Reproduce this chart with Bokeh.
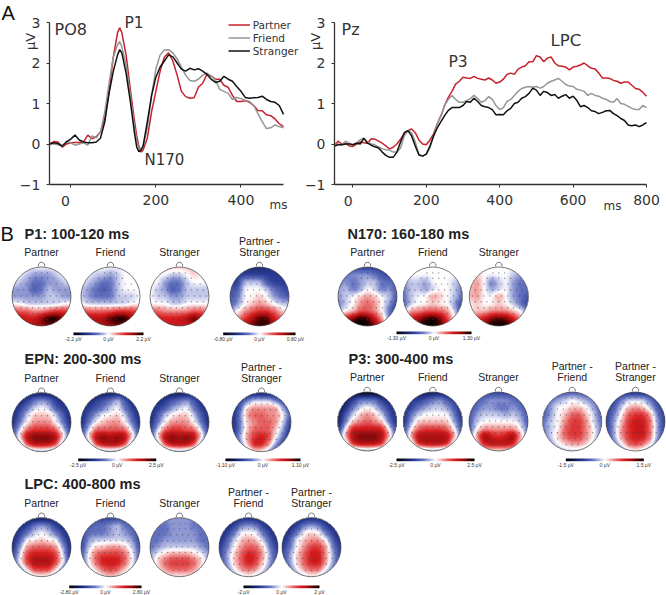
import numpy as np
from bokeh.embed import file_html
from bokeh.resources import INLINE
from bokeh.plotting import figure
from bokeh.layouts import column, row
from bokeh.models import (Range1d, FixedTicker, Label, Legend, LegendItem,
                          LinearColorMapper)

# ---------- ERP data ----------
TIME_PO8 = [-50,-40,-30,-20,-10,0,10,20,30,40,50,60,70,
            80,90,100,110,115,120,130,140,150,155,160,165,170,
            180,190,200,210,220,230,240,250,260,270,280,290,300,310,320,330,340,350,
            360,370,380,390,400,410,420,430,440,450,460,470,480,490,500]
PO8_PARTNER = [0,.06,.05,-.08,0,.03,.04,.04,.05,.22,.13,.18,.3,
               .65,1.3,2.15,2.75,2.87,2.75,2.2,1.35,.55,.2,-.05,-.2,-.15,
               .15,.8,1.3,1.8,2.15,2.25,2.05,1.7,1.3,1.17,1.13,1.14,1.4,1.5,1.72,1.68,1.6,1.6,
               1.45,1.4,1.2,1.05,1.05,1.07,1.03,.95,.83,.82,.72,.7,.62,.5,.43]
PO8_FRIEND = [0,0,-.02,-.05,.07,.03,-.03,0,.03,-.03,.2,.15,.3,
              .8,1.5,2.15,2.45,2.53,2.4,1.95,1.2,.4,.1,-.12,-.15,-.05,
              .4,1.2,1.85,2.2,2.32,2.33,2.25,2.1,1.9,1.7,1.57,1.55,1.6,1.7,1.75,1.68,1.58,1.35,
              1.3,1.25,1.1,1.15,1.12,1.08,1.05,.95,.75,.55,.38,.4,.47,.43,.4]
PO8_STRANGER = [0,.03,.01,-.05,.05,.12,.22,.1,.05,.03,.03,.05,.15,
                .55,1.25,1.8,2.2,2.33,2.25,1.75,1.05,.25,-.08,-.19,-.15,-.05,
                .55,1.2,1.65,1.9,2.05,2.2,2.15,2.0,1.85,1.8,1.87,1.83,1.86,1.8,1.72,1.6,1.52,1.55,
                1.67,1.6,1.55,1.42,1.3,1.15,1.13,1.14,1.15,1.18,1.1,1.05,1.03,.95,.73]

TIME_PZ = list(range(-50, 810, 10))
PZ_PARTNER = [-.03,.07,0,.02,-.05,-.06,0,.05,.03,.02,.13,.12,.07,.02,-.05,-.12,-.08,0,.12,.25,.33,.37,.28,.1,.0,-.02,
              .1,.25,.5,.7,.95,1.15,1.3,1.48,1.55,1.65,1.63,1.62,1.67,1.62,1.6,1.58,1.63,1.58,1.5,1.53,1.6,1.72,1.75,1.72,
              1.85,1.9,1.93,2.03,2.03,2.18,2.15,2.03,2.12,2.15,2.0,1.93,1.92,1.9,1.83,1.9,1.92,1.95,2.0,1.93,
              1.87,1.85,1.75,1.63,1.63,1.62,1.57,1.55,1.5,1.53,1.53,1.45,1.37,1.35,1.28,1.18]
PZ_FRIEND = [-.02,0,-.02,.07,.02,-.02,.03,.1,.15,.05,0,-.02,-.07,-.12,-.14,-.15,-.2,-.2,-.1,.2,.33,.28,.05,-.25,-.3,-.25,
             -.1,.2,.5,.7,.95,1.1,1.2,1.1,1.03,1.03,1.07,1.12,1.2,1.12,1.03,1.07,1.17,1.1,.95,.85,.9,1.05,1.1,1.2,
             1.3,1.37,1.4,1.42,1.4,1.42,1.38,1.42,1.5,1.55,1.58,1.62,1.55,1.47,1.43,1.42,1.35,1.33,1.3,1.2,
             1.25,1.2,1.18,1.13,1.1,1.05,1.03,1.12,1.0,.98,.93,.88,.85,.85,.95,.9]
PZ_STRANGER = [-.05,-.02,-.02,0,0,-.02,.02,0,.14,.02,-.03,-.07,-.1,-.2,-.28,-.33,-.33,-.2,.05,.28,.33,.2,-.05,-.27,-.3,-.25,
               -.05,.2,.4,.55,.7,.83,.9,.9,.9,.95,1.05,1.03,1.13,1.05,.95,.92,.9,.85,.72,.73,.72,.82,.88,1.0,
               1.03,1.13,1.17,1.25,1.38,1.33,1.2,1.3,1.27,1.2,1.22,1.13,1.18,1.22,1.13,1.18,1.08,.92,.95,.9,
               .82,.8,.75,.78,.82,.83,.75,.7,.63,.58,.47,.45,.47,.43,.47,.53]

# ---------- scalp maps: amplitude read on a 9 x 9 lattice (top row = front), -9..9 ----------
P1_PARTNER = [[0,0,0,0,0,0,0,0,0],[0,0,-1,-2,-2,-2,-1,0,0],[0,-1,-2,-3,-3,-2,-2,-1,0],[-2,-2,-2,-4,-3,-1,-2,-2,-2],
              [-2,-2,-2,-2,-2,-1,-1,-2,-2],[0,0,-1,-1,-1,-1,-1,0,0],[4,3,3,2,2,3,4,4,4],[6,6,5,5,7,9,9,7,6],[5,5,5,6,6,7,6,5,5]]
P1_FRIEND = [[0,0,0,0,0,0,0,0,0],[0,0,-1,-1,-2,-1,0,0,0],[0,-1,-2,-3,-3,-1,0,0,0],[-1,-2,-3,-4,-3,-1,0,0,0],
             [-1,-2,-3,-3,-3,-1,-1,-1,0],[0,-1,-1,-1,-1,-1,-1,0,0],[4,3,3,3,3,4,4,4,3],[6,6,6,6,8,9,9,6,5],[5,5,5,6,6,7,6,5,5]]
P1_STRANGER = [[0,0,1,1,1,1,1,0,0],[0,0,0,-1,-1,0,1,0,0],[0,0,-2,-3,-3,-1,0,0,0],[0,-1,-2,-4,-3,-1,-1,-1,-1],
               [0,-1,-1,-2,-2,-1,-1,-1,-1],[0,0,0,-1,-1,0,0,0,0],[3,3,2,2,2,2,3,3,2],[5,5,5,5,5,6,8,6,5],[4,4,4,5,5,5,5,4,4]]
P1_DIFF = [[-6,-6,-6,-6,-6,-6,-6,-6,-6],[-5,-5,-5,-5,-5,-5,-5,-5,-5],[-5,-5,-1,-1,-1,-4,-5,-5,-5],[-4,-4,0,0,0,-1,-3,-4,-5],
           [-4,-3,0,0,1,0,-2,-3,-4],[-4,-2,0,1,2,1,0,-1,-1],[-2,0,2,3,4,4,3,1,0],[0,2,4,6,8,8,5,3,2],[2,4,6,7,8,8,6,4,3]]
N170_PARTNER = [[-5,-5,-5,-5,-5,-5,-5,-5,-5],[-4,-3,-2,-2,-2,-3,-4,-5,-5],[-3,-2,-3,-2,-1,-1,-3,-3,-4],[-2,-1,-3,-2,0,-1,-3,-2,-4],
                [-2,-1,0,1,2,1,0,-1,-4],[-3,-1,0,2,3,2,0,-2,-5],[-2,0,1,3,3,2,0,-3,-6],[4,5,7,9,8,5,2,-3,-5],[6,7,9,9,9,7,4,-1,-3]]
N170_FRIEND = [[0,0,0,0,0,0,0,0,0],[-1,0,0,0,0,0,0,0,-1],[-2,-1,-1,-2,0,0,0,-1,-2],[-3,-1,-1,-2,-1,0,0,-1,-3],
               [-3,-1,0,0,2,1,0,-1,-3],[-4,-1,0,0,1,0,0,-2,-5],[-2,2,2,3,3,3,2,-1,-5],[3,5,6,8,9,7,4,0,-4],[5,6,8,9,9,8,5,1,-3]]
N170_STRANGER = [[0,0,0,0,0,0,0,-1,-1],[0,1,0,0,0,0,-1,-2,-3],[1,2,0,-3,-1,0,-2,-3,-3],[1,2,0,-2,-1,0,-2,-3,-3],
                 [1,2,0,0,2,0,-2,-3,-4],[0,1,0,0,1,0,-1,-3,-5],[0,1,1,2,2,2,1,0,-3],[2,4,5,7,8,7,5,2,-2],[3,5,7,9,9,9,7,3,-1]]
EPN_PARTNER = [[-7,-7,-7,-7,-7,-7,-7,-7,-7],[-6,-6,-5,-3,-2,-3,-5,-6,-7],[-6,-5,-3,-1,0,-1,-4,-5,-6],[-6,-4,-1,1,1,1,-1,-4,-6],
               [-6,-3,0,2,2,2,0,-3,-6],[-5,-1,3,4,4,4,3,-1,-5],[-5,1,6,7,7,7,6,1,-5],[-5,-3,4,6,6,6,4,-3,-5],[-6,-5,-4,-3,-2,-3,-4,-5,-6]]
EPN_FRIEND = [[-7,-7,-7,-7,-7,-7,-7,-7,-7],[-6,-6,-5,-4,-3,-1,-4,-6,-7],[-6,-5,-4,-3,-1,0,-3,-5,-6],[-6,-4,-2,0,0,1,-1,-4,-6],
              [-6,-3,0,1,2,2,0,-3,-6],[-5,-1,3,3,3,3,3,-1,-5],[-5,1,6,7,6,7,6,1,-5],[-5,-3,4,6,6,6,4,-3,-5],[-6,-5,-4,-3,-2,-3,-4,-5,-6]]
EPN_STRANGER = [[-7,-7,-7,-7,-7,-7,-7,-7,-7],[-6,-6,-5,-4,-3,-2,-4,-6,-7],[-6,-5,-4,-2,-1,0,-3,-5,-6],[-6,-4,-1,0,1,1,-1,-4,-6],
                [-6,-3,0,2,2,2,0,-3,-6],[-5,-1,3,4,4,3,3,-1,-5],[-5,1,6,7,6,7,6,1,-5],[-5,-3,4,6,6,6,4,-3,-5],[-6,-5,-4,-3,-2,-3,-4,-5,-6]]
EPN_DIFF = [[-7,-7,-7,-7,-7,-7,-7,-7,-7],[-6,-5,-3,-1,-1,-1,-3,-5,-6],[-6,-4,1,2,2,2,2,-2,-5],[-6,-3,2,3,3,2,2,0,-4],
            [-6,-3,1,2,3,3,2,-1,-5],[-6,-3,1,3,3,3,1,-2,-6],[-6,-2,2,4,5,4,0,-3,-7],[-6,-3,1,5,5,2,-2,-5,-7],[-7,-5,-2,0,0,-2,-5,-6,-7]]
P3_PARTNER = [[-9,-9,-9,-9,-9,-9,-9,-9,-9],[-8,-7,-5,-3,-3,-3,-5,-6,-6],[-8,-6,-3,-1,0,-1,-3,-5,-6],[-7,-4,-1,1,2,1,-1,-4,-6],
              [-7,-3,1,2,3,2,1,-3,-6],[-6,0,5,5,5,5,5,0,-5],[-5,2,6,7,7,7,6,2,-5],[-5,-2,5,6,6,6,5,-2,-5],[-7,-5,-4,-3,-2,-3,-4,-5,-6]]
P3_FRIEND = [[-7,-7,-7,-7,-7,-7,-7,-7,-7],[-6,-5,-5,-4,-3,-2,-4,-5,-6],[-6,-5,-3,-2,-1,-1,-2,-4,-6],[-6,-3,-1,0,0,0,0,-3,-6],
             [-6,-2,1,1,1,1,1,-2,-5],[-5,0,3,4,4,4,3,0,-5],[-5,2,6,6,6,6,6,2,-5],[-5,-2,5,6,6,6,5,-2,-5],[-6,-5,-4,-3,-2,-3,-4,-5,-6]]
P3_STRANGER = [[-5,-5,-5,-5,-5,-5,-5,-5,-5],[-5,-4,-3,-2,-2,-2,-3,-4,-5],[-5,-3,-2,-2,-3,-3,-2,-3,-5],[-4,-2,-1,-1,-1,-2,-1,-2,-4],
               [-4,-1,0,0,0,0,0,-1,-4],[-4,0,2,2,2,2,2,0,-3],[-4,2,7,5,4,5,7,2,-3],[-1,0,5,6,6,6,5,0,-1],[0,0,0,0,0,0,0,0,0]]
P3_PF = [[-4,-4,-4,-4,-4,-4,-4,-4,-4],[-4,-3,-2,-1,0,-1,-2,-3,-4],[-4,-2,0,0,1,1,0,-2,-4],[-4,-2,0,1,3,3,1,-1,-4],
         [-3,-1,0,2,4,4,2,-1,-3],[-3,-1,0,3,4,4,2,0,-3],[-3,-1,1,3,4,4,2,0,-3],[-4,-2,0,1,2,2,1,-1,-4],[-5,-4,-2,-1,-1,-1,-2,-4,-5]]
P3_PS = [[-6,-6,-6,-6,-6,-6,-6,-6,-6],[-5,-5,-3,-1,-1,-1,-3,-5,-6],[-5,-4,-1,1,2,1,-1,-4,-5],[-5,-3,0,3,4,4,2,-3,-5],
         [-5,-2,1,4,5,5,3,-2,-5],[-5,-2,2,4,5,5,3,-2,-5],[-5,-2,2,4,5,5,3,-2,-5],[-5,-3,0,3,4,3,1,-3,-5],[-6,-5,-3,-1,0,-1,-3,-5,-6]]
LPC_PARTNER = [[-7,-7,-7,-7,-7,-7,-7,-7,-7],[-6,-6,-5,-3,-2,-3,-5,-6,-6],[-6,-5,-3,-1,0,-1,-3,-5,-6],[-6,-4,0,0,1,0,0,-4,-6],
               [-6,-2,2,3,3,3,2,-2,-6],[-5,-1,4,5,5,5,4,-1,-6],[-5,0,4,6,6,6,4,0,-6],[-5,-3,1,4,4,4,1,-3,-6],[-6,-5,-3,-1,0,-1,-3,-5,-7]]
LPC_FRIEND = [[-5,-5,-5,-5,-5,-5,-5,-5,-5],[-5,-4,-3,-3,-2,-1,-3,-4,-5],[-5,-3,-3,-3,-2,-1,-2,-3,-5],[-5,-2,-1,-1,-1,-1,-1,-2,-5],
              [-5,-1,1,1,2,2,1,-1,-4],[-4,0,3,4,4,4,3,0,-4],[-4,0,3,5,5,5,3,0,-4],[-4,-1,1,3,4,3,1,-1,-4],[-5,-3,-1,0,1,0,-1,-3,-5]]
LPC_STRANGER = [[-2,-2,-2,-2,-2,-2,-2,-2,-2],[-3,-3,-3,-2,-2,-2,-3,-3,-3],[-3,-3,-3,-2,-2,-2,-2,-3,-3],[-3,-3,-2,-2,-2,-2,-2,-3,-3],
                [-3,-2,-1,-1,-1,-1,-1,-2,-3],[-2,0,1,2,2,2,1,0,-2],[-2,1,3,4,4,4,3,1,-2],[-1,0,2,3,3,3,2,0,-1],[0,0,0,0,0,0,0,0,0]]
LPC_PF = [[-6,-6,-6,-6,-6,-6,-6,-6,-6],[-6,-6,-5,-3,-2,-3,-5,-6,-6],[-6,-5,-3,0,0,0,-3,-5,-6],[-6,-4,-1,1,2,1,-1,-4,-6],
          [-5,-3,0,2,3,3,1,-3,-5],[-5,-2,1,3,5,4,2,-2,-5],[-5,-2,1,3,5,4,1,-2,-5],[-6,-3,0,2,3,2,0,-3,-6],[-7,-5,-3,-1,0,-1,-3,-5,-7]]
LPC_PS = [[-6,-6,-6,-6,-6,-6,-6,-6,-6],[-6,-6,-5,-3,-2,-3,-5,-6,-6],[-6,-5,-3,0,1,0,-3,-5,-6],[-6,-4,0,1,2,2,0,-4,-6],
          [-5,-3,0,2,4,4,2,-3,-5],[-5,-2,1,3,5,5,2,-2,-5],[-5,-2,1,3,5,5,2,-2,-5],[-6,-3,0,2,3,3,0,-3,-6],[-7,-5,-3,-1,0,-1,-3,-5,-7]]

# electrode rows in head-relative units
ELECTRODE_ROWS = [(-.80,[-.2,0,.2]),(-.62,[-.4,-.2,0,.2,.4]),(-.42,[-.7,-.5,-.3,-.1,.1,.3,.5,.7]),
                  (-.22,[-.8,-.6,-.4,-.2,0,.2,.4,.6,.8]),(-.02,[-.9,-.7,-.5,-.3,-.1,.1,.3,.5,.7,.9]),
                  (.18,[-.8,-.6,-.4,-.2,0,.2,.4,.6,.8]),(.38,[-.7,-.5,-.3,-.1,.1,.3,.5,.7]),
                  (.58,[-.5,-.3,-.1,.1,.3,.5]),(.78,[-.2,0,.2])]

# ---------- layout of the lower panel ----------
R = 29.5
MAPS = [(P1_PARTNER,41,296,["Partner"]),(P1_FRIEND,110,296,["Friend"]),(P1_STRANGER,179,296,["Stranger"]),
        (P1_DIFF,259,296,["Partner -","Stranger"]),
        (N170_PARTNER,367,296,["Partner"]),(N170_FRIEND,432.3,296,["Friend"]),(N170_STRANGER,498.3,296,["Stranger"]),
        (EPN_PARTNER,41,421.7,["Partner"]),(EPN_FRIEND,110,421.7,["Friend"]),(EPN_STRANGER,179,421.7,["Stranger"]),
        (EPN_DIFF,261,421.7,["Partner -","Stranger"]),
        (P3_PARTNER,366.7,421,["Partner"]),(P3_FRIEND,432.3,421,["Friend"]),(P3_STRANGER,498,421,["Stranger"]),
        (P3_PF,571.7,421,["Partner -","Friend"]),(P3_PS,635,421,["Partner -","Stranger"]),
        (LPC_PARTNER,41,546.7,["Partner"]),(LPC_FRIEND,110,546.7,["Friend"]),(LPC_STRANGER,179,546.7,["Stranger"]),
        (LPC_PF,248,546.7,["Partner -","Friend"]),(LPC_PS,311,546.7,["Partner -","Stranger"])]
TITLES = [("P1: 100-120 ms",24,238),("N170: 160-180 ms",347,238),("EPN: 200-300 ms",24,363.5),
          ("P3: 300-400 ms",348,363.5),("LPC: 400-800 ms",24,488.5)]
BARS = [(73,143,332,["-2.2 µV","0 µV","2.2 µV"]),(222.7,295,332,["-0.80 µV","0 µV","0.80 µV"]),
        (396,471,331,["-1.30 µV","0 µV","1.30 µV"]),
        (77.7,155.7,458,["-2.5 µV","0 µV","2.5 µV"]),(225,300,458,["-1.10 µV","0 µV","1.10 µV"]),
        (396,474,458,["-2.5 µV","0 µV","2.5 µV"]),(565.3,643.3,458,["-1.5 µV","0 µV","1.5 µV"]),
        (68.7,141,585,["-2.80 µV","0 µV","2.80 µV"]),(243,319,585,["-2 µV","0 µV","2 µV"])]

RED, GRAY, BLACK, INK = "#c8202c", "#969696", "#111111", "#333333"
SANS, ARIAL = "DejaVu Sans", "Liberation Sans"

# ---------- helpers ----------
PX_PER_UV = 40.5
ay = lambda py: 3 - (py - 22) / PX_PER_UV

def erp_figure(width, xr, ticks, bounds):
    f = figure(width=width, height=220, output_backend="svg", toolbar_location=None,
               x_range=Range1d(*xr), y_range=Range1d(ay(220), ay(0)), min_border=0)
    f.grid.visible = False
    f.outline_line_color = None
    f.xaxis.ticker = FixedTicker(ticks=ticks)
    f.yaxis.ticker = FixedTicker(ticks=[-1, 0, 1, 2, 3])
    f.xaxis.bounds = bounds
    f.yaxis.bounds = (-1, 3)
    f.xaxis.fixed_location = -1
    f.yaxis.fixed_location = bounds[0]
    f.xaxis.major_label_overrides = {0: ""}
    for ax in (f.xaxis[0], f.yaxis[0]):
        ax.axis_line_color = INK
        ax.axis_line_width = 1.3
        ax.major_tick_line_color = INK
        ax.major_tick_out = 3
        ax.major_tick_in = 0
        ax.minor_tick_line_color = None
        ax.major_label_text_font = SANS
        ax.major_label_text_font_size = "14px"
        ax.major_label_text_color = INK
    f.xaxis.major_label_standoff = 7
    f.yaxis.major_label_standoff = 6
    return f

def note(f, x, y, text, size, font=SANS, style="normal", align="left", baseline="alphabetic", angle=0, color=INK):
    # the renderer sets alphabetic text about a third of its size low; lift it back
    lift = 0.34 * size if baseline == "alphabetic" else 0
    f.add_layout(Label(x=x, y=y, text=text, text_font=font, text_font_size=f"{size}px",
                       text_font_style=style, text_align=align, text_baseline=baseline,
                       angle=angle, text_color=color, y_offset=lift))

# ---------- top left ----------
SX1 = 234 / 550
ax1 = lambda px: (px - 49) / SX1 - 50
f1 = erp_figure(305, (ax1(0), ax1(305)), [0, 200, 400], (-50, 500))
l_p = f1.line(TIME_PO8, PO8_PARTNER, line_color=RED, line_width=1.5)
l_f = f1.line(TIME_PO8, PO8_FRIEND, line_color=GRAY, line_width=1.5)
l_s = f1.line(TIME_PO8, PO8_STRANGER, line_color=BLACK, line_width=1.5)
f1.add_layout(Legend(items=[LegendItem(label="Partner", renderers=[l_p]),
                            LegendItem(label="Friend", renderers=[l_f]),
                            LegendItem(label="Stranger", renderers=[l_s])],
                     location=(227.7, 163), background_fill_alpha=0, border_line_color=None,
                     margin=0, padding=0, spacing=0, glyph_width=22, glyph_height=13,
                     label_height=13, label_standoff=3, label_text_font=SANS,
                     label_text_font_size="10.5px", label_text_color=INK))
note(f1, ax1(1), ay(19), "A", 20, font=ARIAL, color="#111111")
note(f1, ax1(54), ay(34), "PO8", 16)
note(f1, ax1(124), ay(28), "P1", 15.5)
note(f1, ax1(144), ay(165), "N170", 15)
note(f1, ax1(269), ay(209), "ms", 12)
note(f1, ax1(30), ay(41), "µV", 13, align="center", baseline="middle", angle=np.pi / 2)
note(f1, ax1(65), ay(200), "0", 14, align="center", baseline="middle")

# ---------- top right ----------
SX2 = 312 / 850
ax2 = lambda px: (px - 334) / SX2 - 50
f2 = erp_figure(361, (ax2(305), ax2(666)), [0, 200, 400, 600, 800], (-50, 800))
f2.line(TIME_PZ, PZ_PARTNER, line_color=RED, line_width=1.5)
f2.line(TIME_PZ, PZ_FRIEND, line_color=GRAY, line_width=1.5)
f2.line(TIME_PZ, PZ_STRANGER, line_color=BLACK, line_width=1.5)
note(f2, ax2(341), ay(34), "Pz", 16)
note(f2, ax2(448), ay(67), "P3", 15.5)
note(f2, ax2(550), ay(45.7), "LPC", 16.5)
note(f2, ax2(603), ay(210), "ms", 12)
note(f2, ax2(315), ay(41), "µV", 13, align="center", baseline="middle", angle=np.pi / 2)
note(f2, ax2(347.7), ay(200), "0", 14, align="center", baseline="middle")

# ---------- bottom: scalp maps ----------
f3 = figure(width=666, height=375, output_backend="svg", toolbar_location=None,
            x_range=Range1d(0, 666), y_range=Range1d(0, 375),
            min_border=0, x_axis_type=None, y_axis_type=None)
f3.grid.visible = False
f3.outline_line_color = None
Y = lambda py: 595 - py

STOPS = [(-1, (0, 0, 0)), (-.8, (16, 24, 74)), (-.55, (42, 60, 150)), (-.3, (106, 120, 196)), (-.1, (200, 204, 236)),
         (0, (255, 255, 255)), (.1, (248, 204, 204)), (.3, (234, 106, 106)), (.5, (216, 30, 32)), (.7, (160, 12, 14)),
         (.85, (80, 0, 0)), (1, (0, 0, 0))]
pos = [s[0] for s in STOPS]
lev = np.linspace(-1, 1, 256)
PALETTE = ["#%02x%02x%02x" % tuple(int(round(np.interp(v, pos, [s[1][c] for s in STOPS]))) for c in range(3)) for v in lev]
mapper = LinearColorMapper(palette=PALETTE, low=-1, high=1, nan_color="rgba(0,0,0,0)")

def render_map(grid):
    g = np.flipud(np.array(grid, float)) / 9
    n = 121
    lin = np.linspace(0, 8, n)
    a = np.array([np.interp(lin, np.arange(9), r) for r in g])
    a = np.array([np.interp(lin, np.arange(9), c) for c in a.T]).T
    k = np.ones(9) / 9
    for _ in range(2):
        p_ = np.pad(a, 4, mode="edge")
        p_ = np.apply_along_axis(lambda v: np.convolve(v, k, "valid"), 0, p_)
        a = np.apply_along_axis(lambda v: np.convolve(v, k, "valid"), 1, p_)
    yy, xx = np.mgrid[-1:1:n * 1j, -1:1:n * 1j]
    a[xx ** 2 + yy ** 2 > 1] = np.nan
    return a

ex, ey = [], []
for grid, cx, cy, labels in MAPS:
    f3.image(image=[render_map(grid)], x=cx - R, y=Y(cy + R), dw=2 * R, dh=2 * R, color_mapper=mapper)
    f3.circle(x=cx, y=Y(cy), radius=R, fill_color=None, line_color="#555555", line_width=0.8)
    f3.arc(x=cx, y=Y(cy - R - 1.5), radius=3.2, start_angle=-0.3, end_angle=np.pi + 0.3,
           line_color="#555555", line_width=0.8)
    for ry, xs in ELECTRODE_ROWS:
        for rx in xs:
            ex.append(cx + rx * R)
            ey.append(Y(cy + ry * R))
    base = cy - 41 if len(labels) == 1 else cy - 52
    for i, t in enumerate(labels):
        note(f3, cx, Y(base + 11 * i), t, 10.5, font=ARIAL, align="center", color="#222222")
f3.scatter(ex, ey, size=1.4, fill_color="#444444", line_color=None, fill_alpha=0.6)

for t, x, y in TITLES:
    note(f3, x, Y(y), t, 14.5, font=ARIAL, style="bold", color="#222222")
note(f3, 0, Y(240), "B", 20, font=ARIAL, color="#111111")

GRADIENT = np.linspace(-1, 1, 256)[None, :]
for x0, x1, y0, labels in BARS:
    f3.image(image=[GRADIENT], x=x0, y=Y(y0 + 2.7), dw=x1 - x0, dh=2.7, color_mapper=mapper)
    for xx_, t in zip((x0, (x0 + x1) / 2, x1), labels):
        note(f3, xx_, Y(y0 + 8), t, 5, font=ARIAL, align="center", color="#333333")

page = column(row(f1, f2, spacing=0), f3, spacing=0)
open("out.html", "w").write(file_html(page, INLINE))
